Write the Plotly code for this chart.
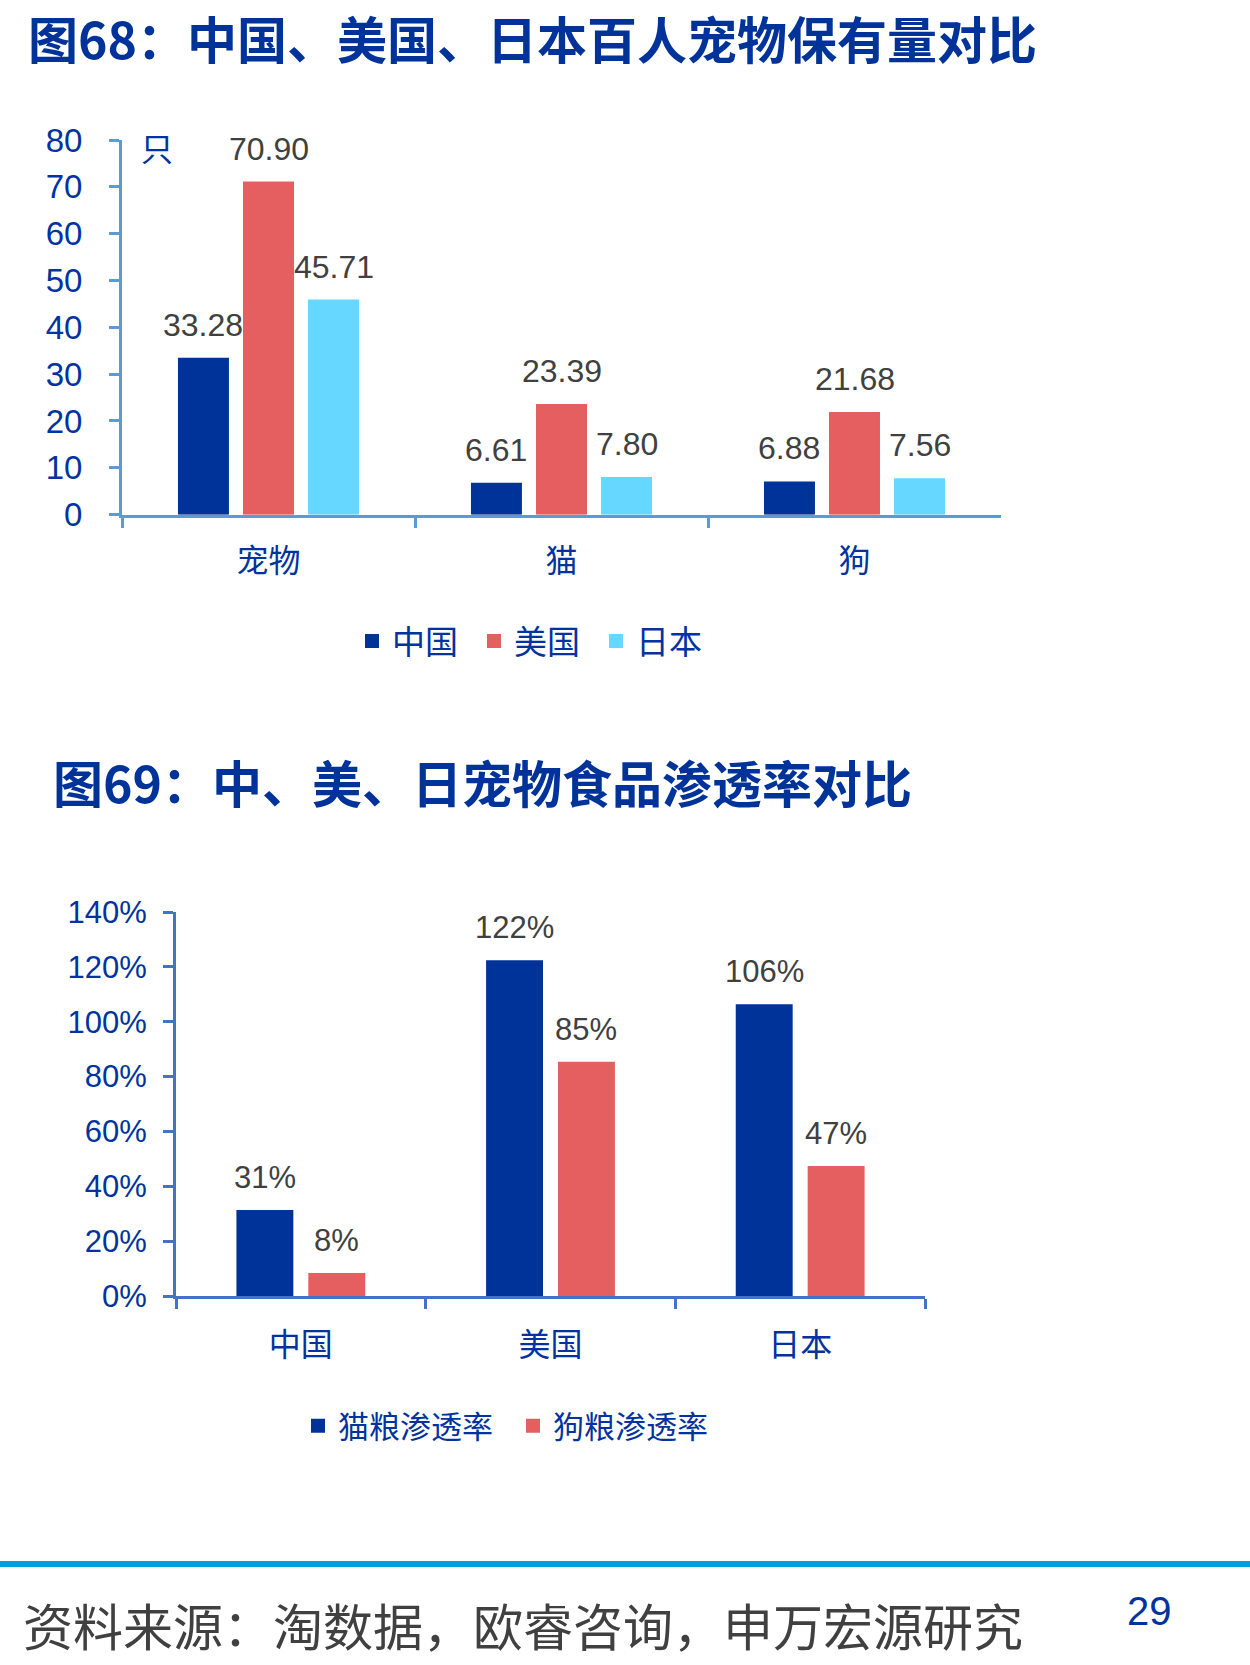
import plotly.graph_objects as go

# ---------------- data ----------------
pets_categories = ["宠物", "猫", "狗"]
pets_series = ["中国", "美国", "日本"]
china_pets = [33.28, 6.61, 6.88]
usa_pets = [70.90, 23.39, 21.68]
japan_pets = [45.71, 7.80, 7.56]
pets_ticks = [0, 10, 20, 30, 40, 50, 60, 70, 80]

food_categories = ["中国", "美国", "日本"]
food_series = ["猫粮渗透率", "狗粮渗透率"]
cat_food = [31, 122, 106]
dog_food = [8, 85, 47]
food_ticks = [0, 20, 40, 60, 80, 100, 120, 140]
food_tick_labels = ["0%", "20%", "40%", "60%", "80%", "100%", "120%", "140%"]

title1 = "图68：中国、美国、日本百人宠物保有量对比"
title2 = "图69：中、美、日宠物食品渗透率对比"
source_text = "资料来源：淘数据，欧睿咨询，申万宏源研究"
page_no = "29"
unit1 = "只"

# ---------------- style ----------------
W, H = 1250, 1665
DARK_BLUE = "#003399"
RED = "#E55F60"
CYAN = "#66D8FF"
TEXT_BLUE = "#0033A0"
GRAY = "#404040"
AX1 = "#5B9BD5"
AX2 = "#4472C4"
NUM_FONT = "Liberation Sans, Arial, Noto Sans CJK SC"
CJK_FONT = "Noto Sans CJK SC"
BAR_LINE = 2


def px_x(x):
    return x / W


def px_y(y):
    return 1 - y / H


fig = go.Figure()

# chart 1 bars (category width ~293 px)
slot1, bw1 = 0.222, 0.174 - BAR_LINE / 293
series1 = [china_pets, usa_pets, japan_pets]
colors1 = [DARK_BLUE, RED, CYAN]
annotations = []
for j, (name, vals, col) in enumerate(zip(pets_series, series1, colors1)):
    shift = (j - (len(series1) - 1) / 2) * slot1
    fig.add_trace(go.Bar(
        x=pets_categories, y=vals, name=name,
        marker=dict(color=col, line=dict(color=col, width=BAR_LINE)),
        width=bw1, offset=shift - bw1 / 2, xaxis="x", yaxis="y",
        legend="legend", hoverinfo="skip",
    ))
    for i, v in enumerate(vals):
        annotations.append(dict(
            x=i + shift, y=v, xref="x", yref="y", text=f"{v:.2f}",
            showarrow=False, yanchor="bottom", yshift=14,
            font=dict(family=NUM_FONT, size=32, color=GRAY),
        ))

# chart 2 bars (category width ~250 px)
slot2, bw2 = 0.288, 0.228 - BAR_LINE / 250
series2 = [cat_food, dog_food]
colors2 = [DARK_BLUE, RED]
for j, (name, vals, col) in enumerate(zip(food_series, series2, colors2)):
    shift = (j - (len(series2) - 1) / 2) * slot2
    fig.add_trace(go.Bar(
        x=food_categories, y=vals, name=name,
        marker=dict(color=col, line=dict(color=col, width=BAR_LINE)),
        width=bw2, offset=shift - bw2 / 2, xaxis="x2", yaxis="y2",
        legend="legend2", hoverinfo="skip",
    ))
    for i, v in enumerate(vals):
        annotations.append(dict(
            x=i + shift, y=v, xref="x2", yref="y2", text=f"{v}%",
            showarrow=False, yanchor="bottom", yshift=14,
            font=dict(family=NUM_FONT, size=31, color=GRAY),
        ))

# text annotations
annotations += [
    dict(x=px_x(27), y=1, xref="paper", yref="paper", text=title1,
         showarrow=False, xanchor="left", yanchor="top", borderpad=0,
         font=dict(family=CJK_FONT, size=50, color=DARK_BLUE, weight=700)),
    dict(x=px_x(51), y=px_y(781), xref="paper", yref="paper", text=title2,
         showarrow=False, xanchor="left", yanchor="middle",
         font=dict(family=CJK_FONT, size=50, color=DARK_BLUE, weight=700)),
    dict(x=px_x(157), y=px_y(147), xref="paper", yref="paper", text=unit1,
         showarrow=False, xanchor="center", yanchor="middle",
         font=dict(family=CJK_FONT, size=32, color=TEXT_BLUE)),
    dict(x=px_x(21), y=px_y(1624), xref="paper", yref="paper", text=source_text,
         showarrow=False, xanchor="left", yanchor="middle",
         font=dict(family=CJK_FONT, size=50, color=GRAY)),
    dict(x=px_x(1149), y=px_y(1611), xref="paper", yref="paper", text=page_no,
         showarrow=False, xanchor="center", yanchor="middle",
         font=dict(family=NUM_FONT, size=40, color=TEXT_BLUE)),
]

axis_common = dict(showgrid=False, zeroline=False, showline=True, linewidth=3,
                   ticks="outside", ticklen=10, tickwidth=3, fixedrange=True,
                   automargin=False)

fig.update_layout(
    width=W, height=H, autosize=False,
    margin=dict(l=0, r=0, t=0, b=0, pad=0, autoexpand=False),
    paper_bgcolor="white", plot_bgcolor="white",
    barmode="overlay",
    showlegend=True,
    xaxis=dict(domain=[px_x(122), px_x(1001)], anchor="y", type="category",
               tickson="boundaries", linecolor=AX1, tickcolor=AX1,
               tickfont=dict(family=CJK_FONT, size=32, color=TEXT_BLUE),
               ticklabelstandoff=16, range=[-0.5, 2.5], **axis_common),
    yaxis=dict(domain=[px_y(514.6), px_y(140)], anchor="x", range=[0, 80],
               tickvals=pets_ticks, linecolor=AX1, tickcolor=AX1,
               tickfont=dict(family=NUM_FONT, size=33, color=TEXT_BLUE),
               ticklabelstandoff=20, **axis_common),
    xaxis2=dict(domain=[px_x(176), px_x(925)], anchor="y2", type="category",
                tickson="boundaries", linecolor=AX2, tickcolor=AX2,
                tickfont=dict(family=CJK_FONT, size=32, color=TEXT_BLUE),
                ticklabelstandoff=19, range=[-0.5, 2.5], **axis_common),
    yaxis2=dict(domain=[px_y(1296), px_y(912)], anchor="x2", range=[0, 140],
                tickvals=food_ticks, ticktext=food_tick_labels,
                linecolor=AX2, tickcolor=AX2,
                tickfont=dict(family=NUM_FONT, size=31, color=TEXT_BLUE),
                ticklabelstandoff=10, **axis_common),
    legend=dict(orientation="h", x=px_x(352), xanchor="left", y=px_y(641),
                yanchor="middle", entrywidth=77, bgcolor="rgba(0,0,0,0)",
                font=dict(family=CJK_FONT, size=33, color=TEXT_BLUE)),
    legend2=dict(orientation="h", x=px_x(298), xanchor="left", y=px_y(1426),
                 yanchor="middle", entrywidth=170, bgcolor="rgba(0,0,0,0)",
                 font=dict(family=CJK_FONT, size=31, color=TEXT_BLUE)),
    annotations=annotations,
    shapes=[dict(type="rect", xref="paper", yref="paper", x0=0, x1=1,
                 y0=px_y(1567), y1=px_y(1561), fillcolor="#009FDE",
                 line=dict(width=0), layer="above")],
)

fig.write_html("out.html", config={"displayModeBar": False})
